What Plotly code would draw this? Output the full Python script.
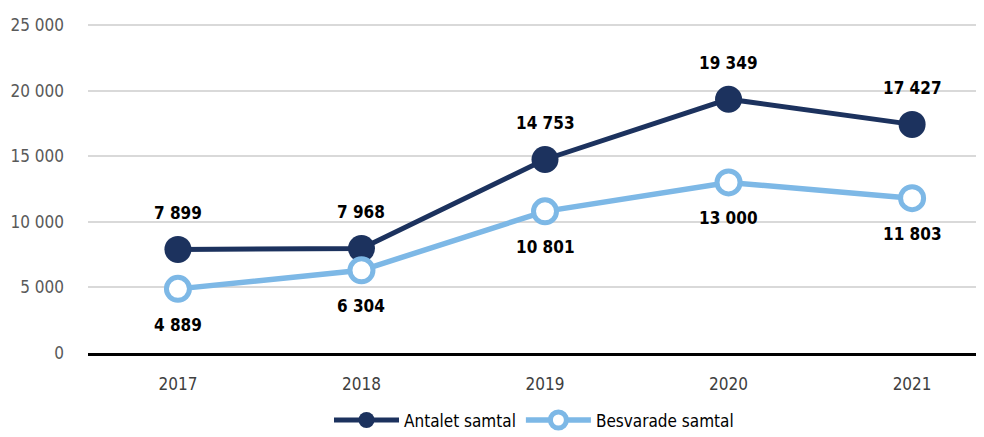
import plotly.graph_objects as go

years = [2017, 2018, 2019, 2020, 2021]
antalet = [7899, 7968, 14753, 19349, 17427]
besvarade = [4889, 6304, 10801, 13000, 11803]
y_ticks = [0, 5000, 10000, 15000, 20000, 25000]

dark = "#1c325e"
light = "#7db8e6"
font = "Liberation Sans Narrow, DejaVu Sans Condensed, Arial Narrow, sans-serif"

def fmt(v):
    return f"{v:,}".replace(",", " ")

fig = go.Figure()
fig.add_trace(go.Scatter(
    x=years, y=antalet, name="Antalet samtal", mode="lines+markers",
    line=dict(color=dark, width=5),
    marker=dict(size=27, color=dark, line=dict(width=0)),
))
fig.add_trace(go.Scatter(
    x=years, y=besvarade, name="Besvarade samtal", mode="lines+markers",
    line=dict(color=light, width=5.5),
    marker=dict(size=23, color="white", line=dict(color=light, width=5)),
))

ann = []
for x, v in zip(years, antalet):
    ann.append(dict(x=x, y=v, text=fmt(v), showarrow=False, yshift=36,
                    font=dict(family=font, size=17, color="#000000", weight="bold")))
for x, v in zip(years, besvarade):
    ann.append(dict(x=x, y=v, text=fmt(v), showarrow=False, yshift=-36,
                    font=dict(family=font, size=17, color="#000000", weight="bold")))

fig.update_layout(
    width=976, height=429,
    margin=dict(l=80, r=4, t=16, b=84, autoexpand=False),
    paper_bgcolor="white", plot_bgcolor="white",
    separators=", ",
    font=dict(family=font, size=17, color="#595959"),
    annotations=ann,
    showlegend=True,
    legend=dict(orientation="h", x=0.5, xanchor="center", y=-0.205, yanchor="middle",
                font=dict(family=font, size=17, color="#000000"),
                itemwidth=65, traceorder="normal"),
)
fig.update_xaxes(
    range=[2016.51, 2021.37], tickvals=years, ticktext=[str(y) for y in years],
    showgrid=False, showline=True, linecolor="#000000", linewidth=3,
    ticks="", tickfont=dict(family=font, size=17, color="#404040"),
    ticklabelstandoff=14, zeroline=False,
)
fig.update_yaxes(
    range=[0, 25080], tickvals=y_ticks, tickformat=",d",
    showgrid=True, gridcolor="#d9d9d9", gridwidth=1.5,
    zeroline=False, showline=False, ticks="",
    tickfont=dict(family=font, size=17, color="#595959"),
    ticklabelstandoff=23,
)

fig.write_html("out.html")
